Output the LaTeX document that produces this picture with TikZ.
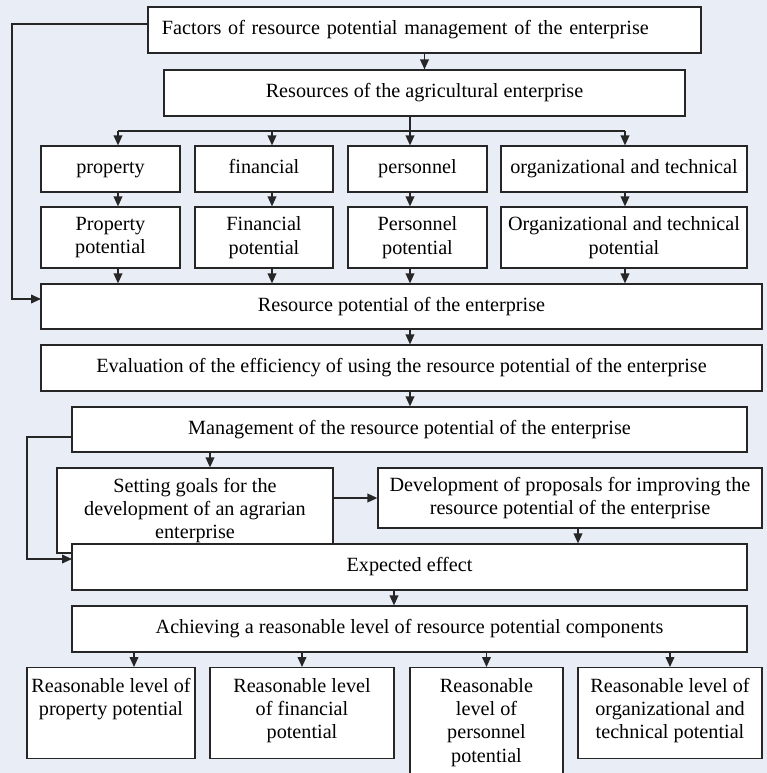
\documentclass[tikz,border=0pt]{standalone}
\usepackage{fontspec}
\setmainfont{Liberation Serif}
\usetikzlibrary{arrows.meta}
\definecolor{pagebg}{RGB}{233,238,246}
\newcommand{\lowtext}[3]{\parbox[t][#2][t]{#1}{\centering\rule{0pt}{12.3pt}#3}}

\begin{document}
\begin{tikzpicture}[
  x=0.5pt, y=-0.5pt,
  >={Triangle[length=5pt,width=4.4pt]},
  box/.style={
    draw=black!85,
    fill=white,
    line width=0.65pt,
    inner sep=0pt,
    align=center,
    font=\fontsize{10.1}{11.65}\selectfont
  },
  oneline/.style={box, text height=7pt, text depth=2.2pt},
  lowbox/.style={box, anchor=north},
  line/.style={draw, line width=0.65pt, black!85},
  link/.style={line, ->},
  every edge/.style={link}
]

  % Page
  \fill[pagebg] (0,0) rectangle (767,773);
  \useasboundingbox (0,0) rectangle (767,773);

  % Columns and levels used by the connectors
  \coordinate (colprop) at (118,0);
  \coordinate (colfin)  at (272,0);
  \coordinate (colpers) at (410,0);
  \coordinate (colorg)  at (625,0);
  \coordinate (bus)     at (0,131);
  \coordinate (colgoal) at (210,0);
  \coordinate (coldev)  at (578,0);
  \coordinate (colexp)  at (394,0);
  \coordinate (collow)  at (134,0);

  % Top: factors and resources
  \node[oneline, minimum width=276.5pt, minimum height=23pt, text width=262.5pt, align=left]
    (factors) at (424.5,30) {Factors of resource potential management of the enterprise};
  \node[oneline, minimum width=260.5pt, minimum height=23pt]
    (res) at (424.5,93) {Resources of the agricultural enterprise};

  % Kinds of resources
  \node[oneline, minimum width=69.5pt, minimum height=23pt] (prop) at (110.5,169) {property};
  \node[oneline, minimum width=69pt,   minimum height=23pt] (fin)  at (264,169)   {financial};
  \node[oneline, minimum width=69.5pt, minimum height=23pt] (pers) at (417.5,169) {personnel};
  \node[oneline, minimum width=123pt,  minimum height=23pt] (org)  at (624,169)   {organizational and technical};

  % Partial potentials
  \node[box, minimum width=69.5pt, minimum height=30.5pt] (ppot) at (110.5,237.5) {Property\\potential};
  \node[box, minimum width=69pt,   minimum height=30.5pt] (fpot) at (264,237.5)   {Financial\\potential};
  \node[box, minimum width=69.5pt, minimum height=30.5pt] (spot) at (417.5,237.5) {Personnel\\potential};
  \node[box, minimum width=123pt,  minimum height=30.5pt] (opot) at (624,237.5)   {Organizational and technical\\potential};

  % Main chain
  \node[oneline, minimum width=360.5pt, minimum height=22.5pt] (rp)   at (401.5,306.5) {Resource potential of the enterprise};
  \node[oneline, minimum width=360.5pt, minimum height=23pt]   (eval) at (401.5,368)   {Evaluation of the efficiency of using the resource potential of the enterprise};
  \node[oneline, minimum width=337.5pt, minimum height=22.5pt] (mgmt) at (409.5,429.5) {Management of the resource potential of the enterprise};
  \node[box, minimum width=138pt,   minimum height=42.5pt] (goals) at (195,510.5)  {Setting goals for the\\development of an agrarian\\enterprise};
  \node[box, minimum width=192pt,   minimum height=30pt]   (dev)  at (570,498)     {Development of proposals for improving the\\resource potential of the enterprise};
  \node[oneline, minimum width=337.5pt, minimum height=23pt]   (exp)  at (409.5,567)   {Expected effect};
  \node[oneline, minimum width=337.5pt, minimum height=23pt]   (ach)  at (409.5,629)   {Achieving a reasonable level of resource potential components};

  % Reasonable levels
  \node[lowbox] (lprop) at (111,667)   {\lowtext{84pt}{45.5pt}{Reasonable level of\\property potential}};
  \node[lowbox] (lfin)  at (302,667)   {\lowtext{92pt}{45.5pt}{Reasonable level\\of financial\\potential}};
  \node[lowbox] (lpers) at (486.5,667) {\lowtext{76.5pt}{58pt}{Reasonable\\level of\\personnel\\potential}};
  \node[lowbox] (lorg)  at (670,667)   {\lowtext{92pt}{45.5pt}{Reasonable level of\\organizational and\\technical potential}};

  % Resources split into kinds
  \path (factors.south) edge (res.north);
  \draw[line] (colpers |- res.south) -- (colpers |- bus);
  \draw[line] (colprop |- bus) -- (colorg |- bus);
  \path (colprop |- bus) edge (colprop |- prop.north);
  \path (colfin |- bus)  edge (colfin |- fin.north);
  \path (colpers |- bus) edge (colpers |- pers.north);
  \path (colorg |- bus)  edge (colorg |- org.north);

  % Kinds into potentials
  \path (colprop |- prop.south) edge (colprop |- ppot.north);
  \path (colfin |- fin.south)   edge (colfin |- fpot.north);
  \path (colpers |- pers.south) edge (colpers |- spot.north);
  \path (colorg |- org.south)   edge (colorg |- opot.north);

  % Potentials into the resource potential
  \path (colprop |- ppot.south) edge (colprop |- rp.north);
  \path (colfin |- fpot.south)  edge (colfin |- rp.north);
  \path (colpers |- spot.south) edge (colpers |- rp.north);
  \path (colorg |- opot.south)  edge (colorg |- rp.north);

  % Factors act on the resource potential
  \coordinate (fbout) at (148,24);
  \coordinate (fbin)  at (41,299);
  \draw[link] (fbout) -| (12,299) -- (fbin);

  % Evaluation and management
  \path (colpers |- rp.south)   edge (colpers |- eval.north);
  \path (colpers |- eval.south) edge (colpers |- mgmt.north);
  \path (colgoal |- mgmt.south) edge (colgoal |- goals.north);
  \path (goals.east |- dev.west) edge (dev.west);
  \path (coldev |- dev.south)   edge (coldev |- exp.north);

  % Management acts on the expected effect
  \coordinate (mgout) at (72,437);
  \coordinate (mgin)  at (72,559);
  \draw[link] (mgout) -| (27,559) -- (mgin);

  % Expected effect to the reasonable levels
  \path (colexp |- exp.south)   edge (colexp |- ach.north);
  \path (collow |- ach.south)   edge (collow |- lprop.north);
  \path (lfin.north |- ach.south)  edge (lfin.north);
  \path (lpers.north |- ach.south) edge (lpers.north);
  \path (lorg.north |- ach.south)  edge (lorg.north);

\end{tikzpicture}
\end{document}
